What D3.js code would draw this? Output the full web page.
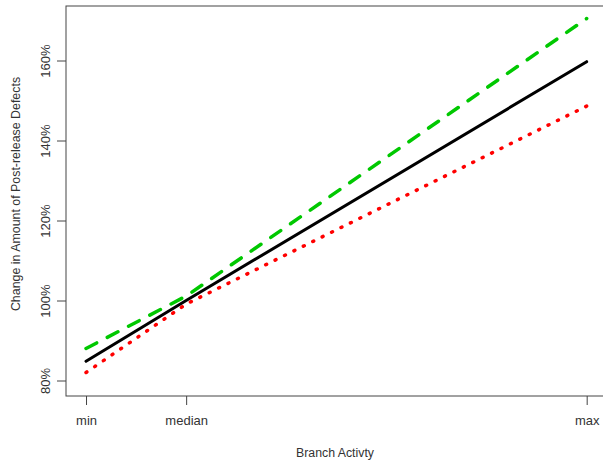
<!DOCTYPE html>
<html>
<head>
<meta charset="utf-8">
<script src="https://cdn.jsdelivr.net/npm/d3@7"></script>
<style>
  html, body { margin: 0; padding: 0; background: #fff; }
  svg { display: block; font-family: "Liberation Sans", Arial, sans-serif; }
</style>
</head>
<body>
<svg id="chart" width="603" height="460"></svg>
<script>
// ---- data ----
const xLabels = ["min", "median", "max"];
const xValues = [0, 20, 100];
const yTicks = [80, 100, 120, 140, 160];
const seriesGreen = [88.0, 101.1, 170.5];
const seriesBlack = [84.8, 100.0, 159.7];
const seriesRed = [82.0, 99.1, 148.6];

(function () {
const svg = d3.select("#chart");
const mLeft = 66, mRight = 606.7, mTop = 6, mBottom = 396;

const x = d3.scaleLinear().domain([-4, 104]).range([mLeft, mRight]);
const y = d3.scaleLinear().domain([76.125, 173.625]).range([mBottom, mTop]);

const textColor = "#333";
const axisColor = "#444";

// plot box
svg.append("rect")
  .attr("x", mLeft).attr("y", mTop)
  .attr("width", mRight - mLeft).attr("height", mBottom - mTop)
  .attr("fill", "none").attr("stroke", axisColor).attr("stroke-width", 1);

// y axis
const yAxis = d3.axisLeft(y).tickValues(yTicks).tickSize(9).tickFormat(d => d + "%");
const gy = svg.append("g").attr("transform", `translate(${mLeft},0)`).call(yAxis);
gy.select(".domain").remove();
gy.selectAll(".tick line").attr("stroke", axisColor);
gy.selectAll(".tick text")
  .attr("fill", textColor)
  .style("font-size", "13px")
  .attr("x", null).attr("y", null).attr("dy", null)
  .attr("text-anchor", "middle")
  .attr("transform", "translate(-16,0) rotate(-90)");

// x axis
const xAxis = d3.axisBottom(x).tickValues(xValues).tickSize(9)
  .tickFormat((d, i) => xLabels[i]);
const gx = svg.append("g").attr("transform", `translate(0,${mBottom})`).call(xAxis);
gx.select(".domain").remove();
gx.selectAll(".tick line").attr("stroke", axisColor);
gx.selectAll(".tick text")
  .attr("fill", textColor)
  .style("font-size", "13px")
  .attr("y", 20);

// axis titles
svg.append("text")
  .attr("x", 335).attr("y", 457)
  .attr("text-anchor", "middle")
  .attr("fill", textColor)
  .style("font-size", "12.3px")
  .text("Branch Activty");

svg.append("text")
  .attr("transform", "translate(20,194) rotate(-90)")
  .attr("text-anchor", "middle")
  .attr("fill", textColor)
  .style("font-size", "12.4px")
  .text("Change in Amount of Post-release Defects");

// lines
const line = d3.line().x((d, i) => x(xValues[i])).y(d => y(d));

svg.append("path").datum(seriesGreen)
  .attr("d", line).attr("fill", "none")
  .attr("stroke", "#00c800").attr("stroke-width", 3.5)
  .attr("stroke-linecap", "round")
  .attr("stroke-dasharray", "12,12");

svg.append("path").datum(seriesBlack)
  .attr("d", line).attr("fill", "none")
  .attr("stroke", "#000").attr("stroke-width", 3)
  .attr("stroke-linecap", "round");

svg.append("path").datum(seriesRed)
  .attr("d", line).attr("fill", "none")
  .attr("stroke", "#ff0000").attr("stroke-width", 3.5)
  .attr("stroke-linecap", "round")
  .attr("stroke-dasharray", "1,9.5");
})();
</script>
</body>
</html>
